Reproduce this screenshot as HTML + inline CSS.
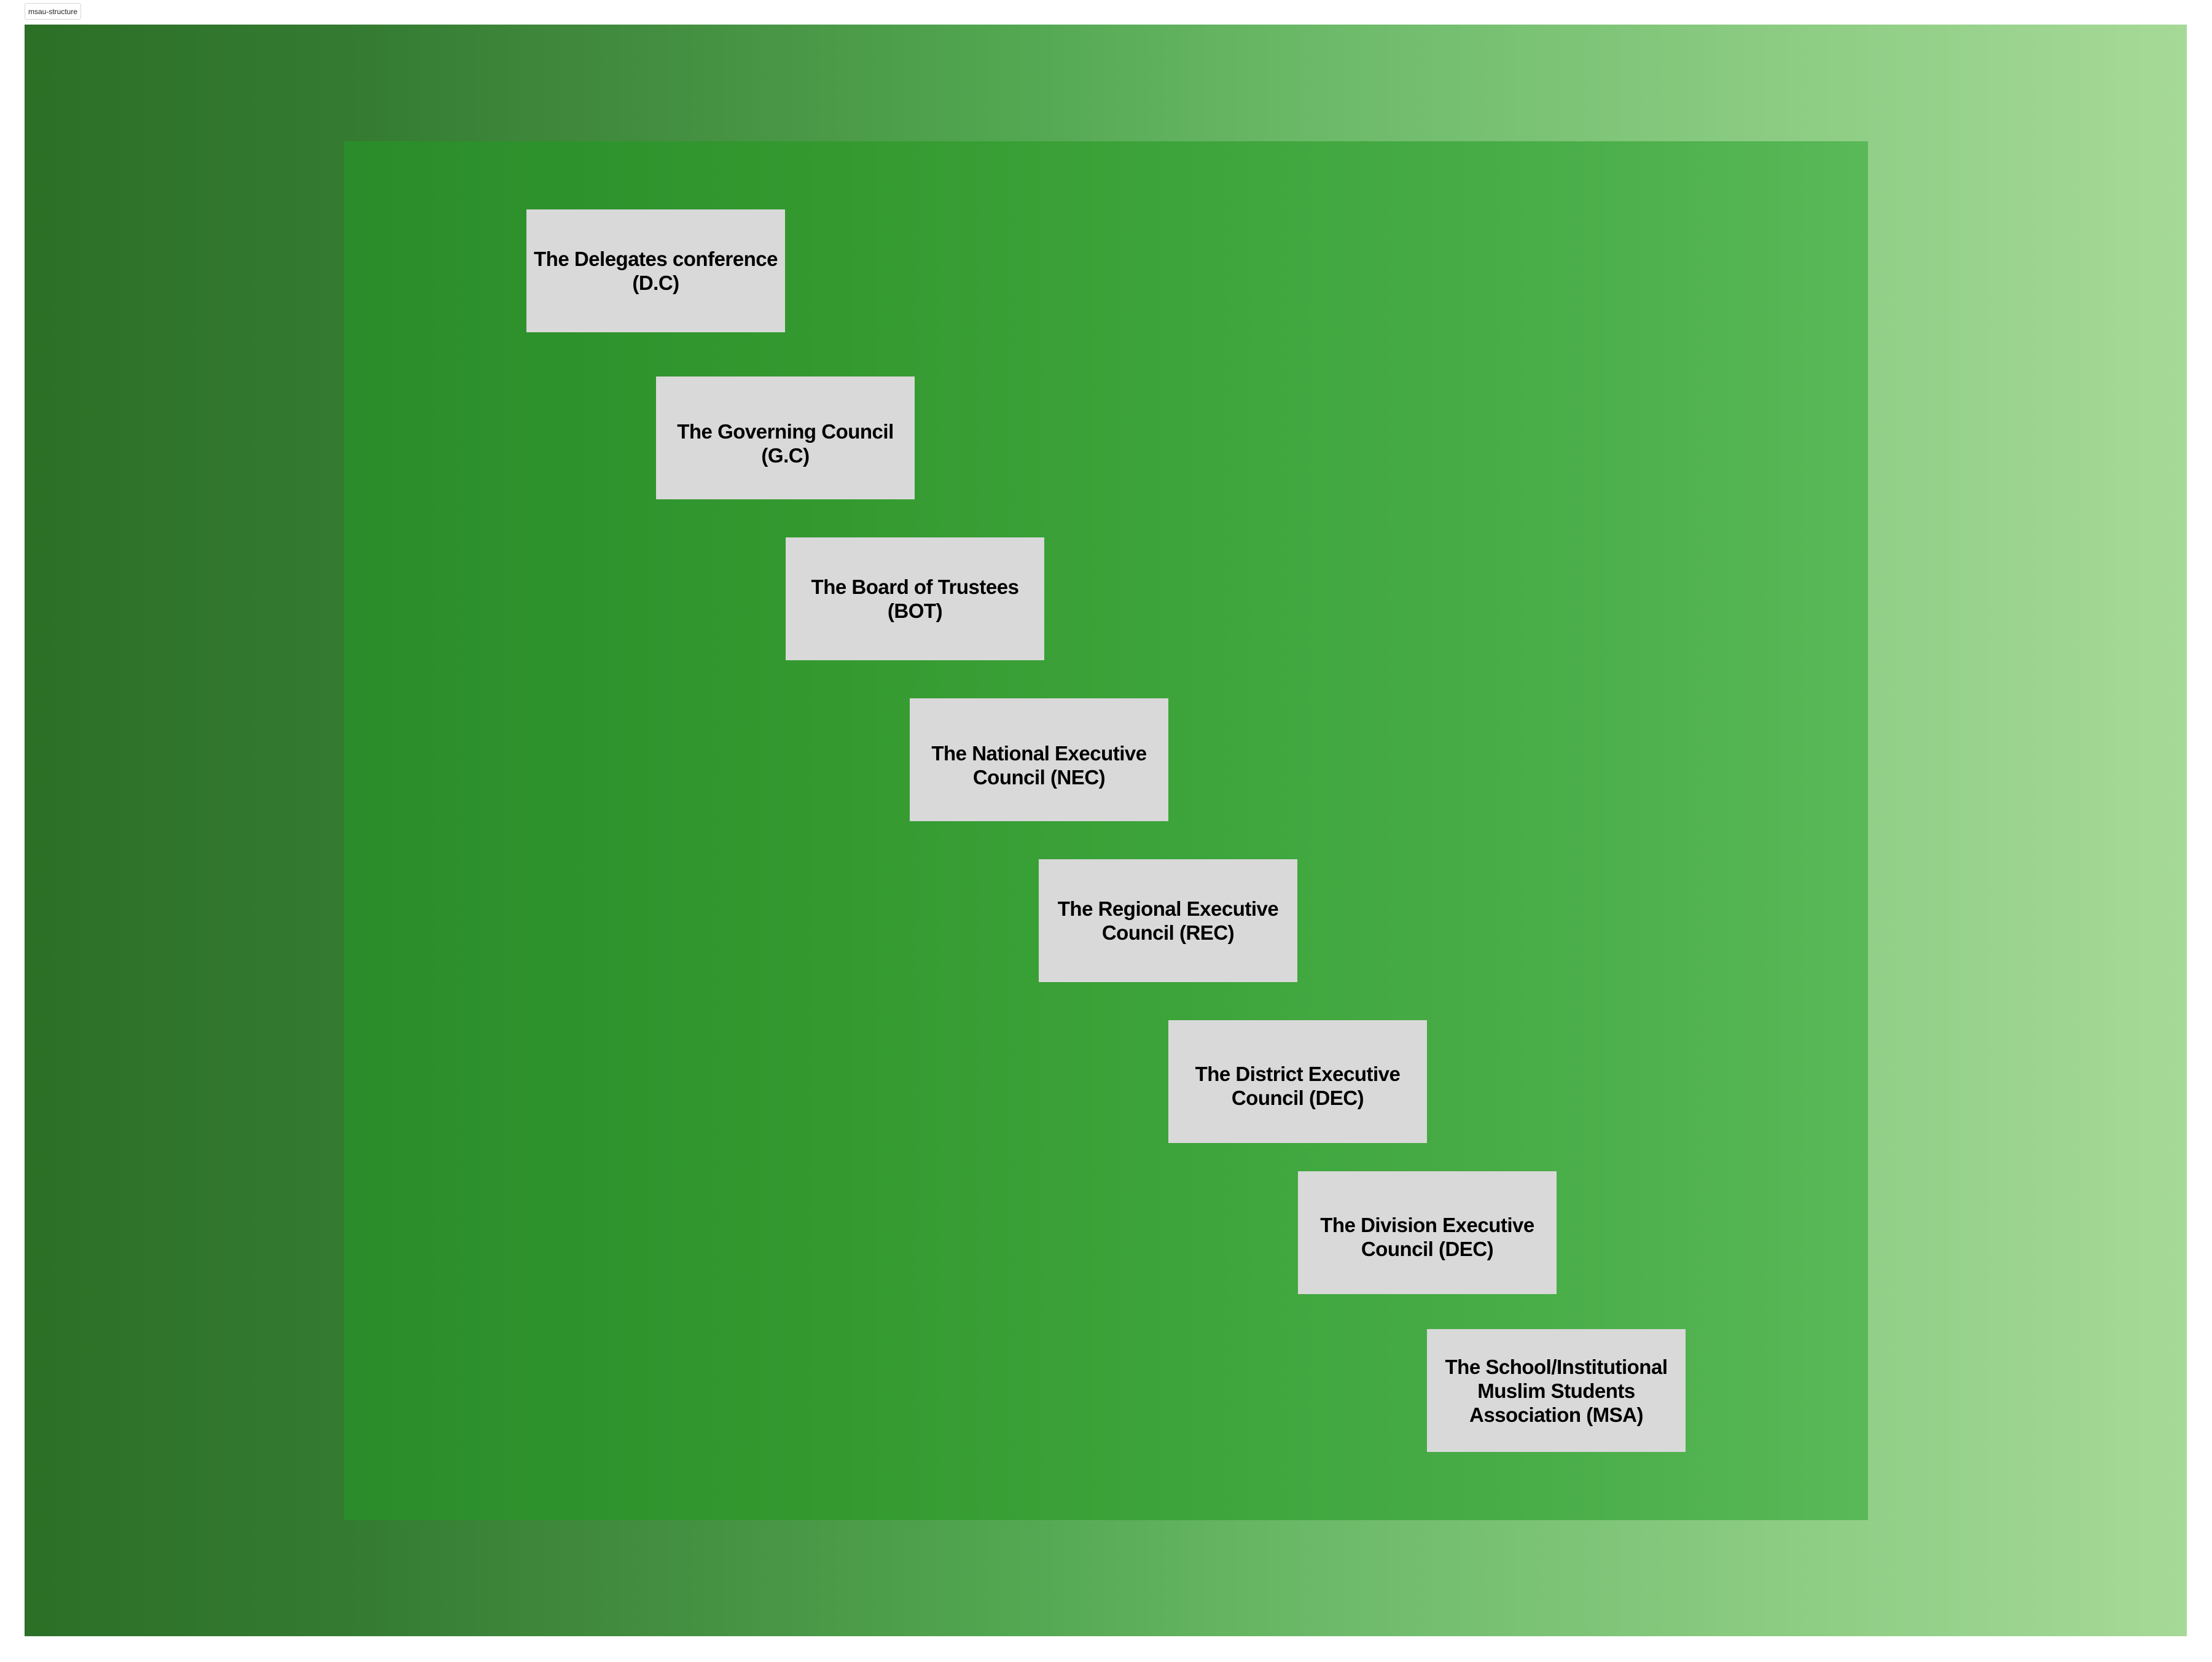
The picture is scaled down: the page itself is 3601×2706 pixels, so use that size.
<!DOCTYPE html>
<html><head><meta charset="utf-8"><style>
html,body{margin:0;padding:0;background:#fff;}
body{width:3601px;height:2706px;position:relative;overflow:hidden;font-family:"Liberation Sans",sans-serif;}
.lbl{position:absolute;left:40px;top:5px;width:92px;height:27px;border:1px solid #d6d6d6;border-radius:3px;background:#fff;font-size:12px;line-height:27px;text-align:center;color:#222;box-sizing:border-box;}
.outer{position:absolute;left:40px;top:40px;width:3520px;height:2624px;background:linear-gradient(90deg,#2c6f26 0%,#347b31 15%,#428c3f 28%,#52a650 45%,#6cba69 60%,#8acb81 80%,#a6d997 100%);}
.inner{position:absolute;left:560px;top:230px;width:2481px;height:2245px;background:linear-gradient(90deg,#2a8c2a 0%,#33992f 30%,#3da43b 55%,#4aae49 80%,#5ab858 100%);}
.box{position:absolute;width:421px;height:200px;background:#d9d9d9;display:flex;align-items:center;justify-content:center;text-align:center;font-weight:bold;font-size:33px;line-height:39px;letter-spacing:-0.5px;color:#000;box-sizing:border-box;padding:0 2px;}
</style></head><body>
<div class="lbl">msau-structure</div>
<div class="outer"></div>
<div class="inner"></div>
<div class="box" style="left:857px;top:341px;">The Delegates conference<br>(D.C)</div>
<div class="box" style="left:1068px;top:613px;padding-top:18px;">The Governing Council<br>(G.C)</div>
<div class="box" style="left:1279px;top:875px;">The Board of Trustees<br>(BOT)</div>
<div class="box" style="left:1481px;top:1137px;padding-top:18px;">The National Executive<br>Council (NEC)</div>
<div class="box" style="left:1691px;top:1399px;">The Regional Executive<br>Council (REC)</div>
<div class="box" style="left:1902px;top:1661px;padding-top:14px;">The District Executive<br>Council (DEC)</div>
<div class="box" style="left:2113px;top:1907px;padding-top:14px;">The Division Executive<br>Council (DEC)</div>
<div class="box" style="left:2323px;top:2164px;">The School/Institutional<br>Muslim Students<br>Association (MSA)</div>
</body></html>
